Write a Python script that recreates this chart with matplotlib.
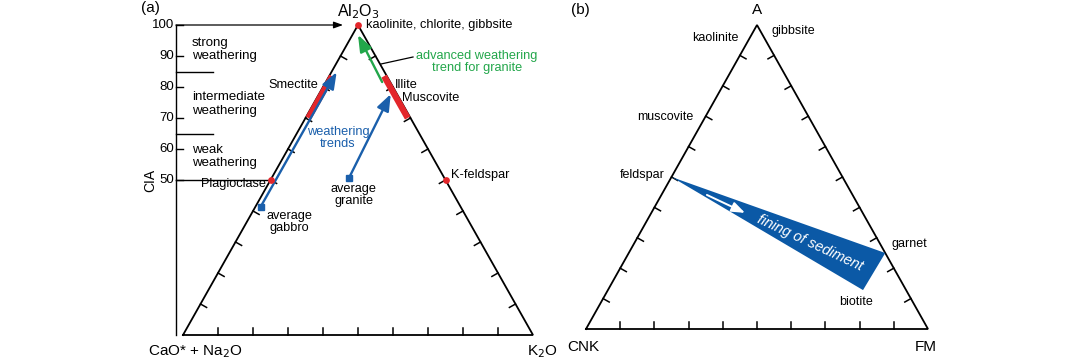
"""
Ternary weathering diagrams: (a) A-CN-K with CIA scale, (b) A-CNK-FM
"""

import numpy as np
import matplotlib.pyplot as plt

plt.switch_backend('Agg')
plt.rcParams['font.family'] = ['Liberation Sans', 'DejaVu Sans']

RED = '#e3262b'
BLUE = '#1a5fab'
GREEN = '#22a64a'
FILL = '#0b59a6'

# ---- data, panel (a): compositions in %, A = Al2O3, K = K2O (CN is the rest)
cia_ticks = [100, 90, 80, 70, 60, 50]
zone_bounds = [85, 65]
zone_labels = ['strong\nweathering', 'intermediate\nweathering', 'weak\nweathering']
zone_label_cia = [92.0, 74.5, 57.5]

point_names = ['kaolinite, chlorite, gibbsite', 'Plagioclase', 'K-feldspar']
point_A = [100, 50, 50]
point_K = [0, 0, 50]

smectite_A = [70, 83.5]
smectite_K = [0.8, 0.8]
illite_A = [70, 83.5]
illite_K = [29.2, 15.7]

gabbro_trend_A = [41.3, 84.8]
gabbro_trend_K = [1.5, 1.5]
granite_trend_A = [50.6, 77.7]
granite_trend_K = [22.1, 20.5]
advanced_trend_A = [81.6, 96.8]
advanced_trend_K = [16.1, 1.6]

# ---- data, panel (b): A and FM in % (CNK is the rest)
fining_names = ['feldspar', 'garnet', 'biotite']
fining_A = [50, 25, 12.8]
fining_FM = [0, 75, 74.6]
fining_arrow_A = [44.1, 38.2]
fining_arrow_FM = [13.3, 27.4]

# triangle geometry in pixels (x0, y_bottom, width, height)
TRI_A = (183, 335, 350, 310)
TRI_B = (586, 329, 342, 304)


def tern(tri, top, right):
    x0, yb, w, h = tri
    top = np.asarray(top, dtype=float) / 100.0
    right = np.asarray(right, dtype=float) / 100.0
    return x0 + w * (right + top / 2), yb - h * top


def draw_triangle(ax, tri, tick_len=7):
    x0, yb, w, h = tri
    verts = np.array([[x0, yb], [x0 + w, yb], [x0 + w / 2, yb - h]])
    ax.plot(np.r_[verts[:, 0], verts[0, 0]], np.r_[verts[:, 1], verts[0, 1]],
            color='black', lw=1.3, solid_joinstyle='miter', zorder=3)
    center = verts.mean(axis=0)
    for i in range(3):
        p, q = verts[i], verts[(i + 1) % 3]
        d = (q - p) / np.linalg.norm(q - p)
        n = np.array([-d[1], d[0]])
        if np.dot(center - p, n) < 0:
            n = -n
        for k in range(1, 10):
            s = p + (q - p) * k / 10
            e = s + n * tick_len
            ax.plot([s[0], e[0]], [s[1], e[1]], color='black', lw=1.1, zorder=3)


def arrow(ax, x, y, color, lw=1.7, hw=0.38, hl=1.0):
    ax.annotate('', xy=(x[1], y[1]), xytext=(x[0], y[0]),
                arrowprops=dict(arrowstyle=f'-|>,head_length={hl},head_width={hw}',
                                color=color, lw=lw, shrinkA=0, shrinkB=0),
                zorder=5)


fig = plt.figure(figsize=(10.79, 3.62), dpi=100)
ax = fig.add_axes([0, 0, 1, 1])
ax.set_xlim(0, 1079)
ax.set_ylim(362, 0)
ax.axis('off')

# ================= panel (a) =================
draw_triangle(ax, TRI_A)
x0, yb, w, h = TRI_A
ax_x = 176


def cia_y(v):
    return yb - h * np.asarray(v, dtype=float) / 100.0


ax.plot([ax_x, ax_x], [cia_y(100), yb], color='black', lw=1.0)
for v in cia_ticks:
    ax.plot([ax_x, ax_x + 7], [cia_y(v), cia_y(v)], color='black', lw=1.0)
    ax.text(ax_x - 2, cia_y(v), str(v), ha='right', va='center', fontsize=9.5)
for v in zone_bounds:
    ax.plot([ax_x, ax_x + 37], [cia_y(v), cia_y(v)], color='black', lw=1.0)
# CIA 50 line runs to the plagioclase point
px, py = tern(TRI_A, 50, 0)
ax.plot([ax_x, px - 3], [cia_y(50), cia_y(50)], color='black', lw=1.0)
# CIA 100 arrow to the apex
apx, apy = tern(TRI_A, 100, 0)
ax.annotate('', xy=(apx - 15, apy), xytext=(ax_x, apy),
            arrowprops=dict(arrowstyle='-|>,head_length=0.55,head_width=0.2',
                            color='black', lw=0.9, shrinkA=0, shrinkB=0))
for lab, v in zip(zone_labels, zone_label_cia):
    ax.text(ax_x + 16, cia_y(v), lab, ha='left', va='center', fontsize=9.5,
            linespacing=1.15)
ax.text(150, 180, 'CIA', rotation=90, ha='center', va='center', fontsize=10)
ax.text(150, 8, '(a)', ha='center', va='center', fontsize=11)

# red bars
sx, sy = tern(TRI_A, smectite_A, smectite_K)
ax.plot(sx, sy, color=RED, lw=4.5, solid_capstyle='butt', zorder=4)
ix, iy = tern(TRI_A, illite_A, illite_K)
ax.plot(ix, iy, color=RED, lw=4.5, solid_capstyle='butt', zorder=4)

# mineral points
mx, my = tern(TRI_A, point_A, point_K)
ax.scatter(mx, my, s=24, color=RED, zorder=6, linewidths=0)
ax.text(mx[0] + 8, my[0], point_names[0], ha='left', va='center', fontsize=9.2)
ax.text(mx[1] - 4, my[1] + 4, point_names[1], ha='right', va='center', fontsize=9.2)
ax.text(mx[2] + 5, my[2] - 5, point_names[2], ha='left', va='center', fontsize=9.2)

# weathering trends
gx, gy = tern(TRI_A, gabbro_trend_A, gabbro_trend_K)
arrow(ax, gx, gy, BLUE)
ax.plot(gx[0], gy[0], marker='s', ms=3.8, color=BLUE, zorder=6)
rx, ry = tern(TRI_A, granite_trend_A, granite_trend_K)
arrow(ax, rx, ry, BLUE)
ax.plot(rx[0], ry[0], marker='s', ms=3.8, color=BLUE, zorder=6)
vx, vy = tern(TRI_A, advanced_trend_A, advanced_trend_K)
arrow(ax, vx, vy, GREEN)

ax.text(gx[0] + 29, gy[0] + 15, 'average\ngabbro', ha='center', va='center',
        fontsize=9.2, linespacing=1.0)
ax.text(rx[0] + 5, ry[0] + 17, 'average\ngranite', ha='center', va='center',
        fontsize=9.2, linespacing=1.0)
ax.text(338, 138, 'weathering\ntrends', ha='center', va='center', fontsize=9.2,
        color=BLUE, linespacing=1.0)
ax.text(293, 85, 'Smectite', ha='center', va='center', fontsize=9.2)
ax.text(ix[1] + 11, iy[1] + 9, 'Illite', ha='left', va='center', fontsize=9.2)
ax.text(ix[1] + 18, iy[1] + 22, 'Muscovite', ha='left', va='center', fontsize=9.2)
ax.text(477, 62, 'advanced weathering\ntrend for granite', ha='center',
        va='center', fontsize=9.2, color=GREEN, linespacing=1.0)
ax.plot([381, 413], [64, 57], color='black', lw=0.9)

ax.text(195, 352, 'CaO* + Na$_2$O', ha='center', va='center', fontsize=11)
ax.text(542, 352, 'K$_2$O', ha='center', va='center', fontsize=11)
ax.text(358, 12, 'Al$_2$O$_3$', ha='center', va='center', fontsize=11.5)

# ================= panel (b) =================
draw_triangle(ax, TRI_B)
fx, fy = tern(TRI_B, fining_A, fining_FM)
ax.fill(fx, fy, color=FILL, lw=0, zorder=4)
wx, wy = tern(TRI_B, fining_arrow_A, fining_arrow_FM)
arrow(ax, wx, wy, 'white', lw=1.4, hw=0.3, hl=0.8)
ax.text(810, 243, 'fining of sediment', rotation=-25, rotation_mode='anchor',
        ha='center', va='center', fontsize=10.5, color='white', style='italic',
        zorder=6)

ax.text(fx[0] - 7, fy[0] - 2, fining_names[0], ha='right', va='center', fontsize=9)
ax.text(fx[1] + 6, fy[1] - 9, fining_names[1], ha='left', va='center', fontsize=9)
ax.text(fx[2] - 7, fy[2] + 12, fining_names[2], ha='center', va='center', fontsize=9)
ax.text(715, 38, 'kaolinite', ha='center', va='center', fontsize=9)
ax.text(793, 31, 'gibbsite', ha='center', va='center', fontsize=9)
ax.text(665, 117, 'muscovite', ha='center', va='center', fontsize=9)

ax.text(757, 10, 'A', ha='center', va='center', fontsize=11)
ax.text(583, 347, 'CNK', ha='center', va='center', fontsize=11)
ax.text(926, 347, 'FM', ha='center', va='center', fontsize=11)
ax.text(580, 10, '(b)', ha='center', va='center', fontsize=11)

fig.savefig('out.png', dpi=100)
